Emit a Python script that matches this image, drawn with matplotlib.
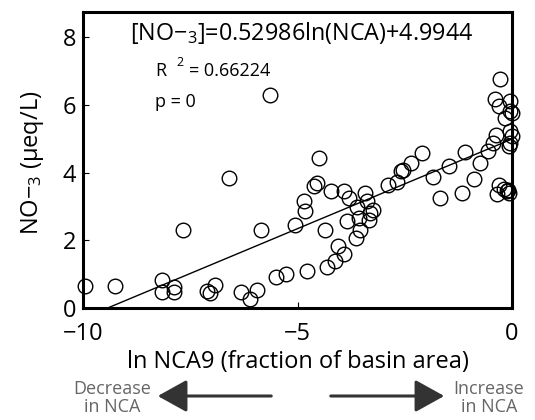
import matplotlib
matplotlib.use("Agg")
import matplotlib.pyplot as plt
import numpy as np

plt.rcParams['font.family'] = ['Open Sans', 'DejaVu Sans']
plt.rcParams['mathtext.fontset'] = 'custom'
plt.rcParams['mathtext.rm'] = 'Open Sans'
plt.rcParams['mathtext.it'] = 'Open Sans'

ln_nca = [-9.95, -9.26, -8.16, -8.17, -7.89, -7.87, -7.67, -7.11, -7.05, -6.92,
          -6.60, -6.31, -6.10, -5.94, -5.84, -5.65, -5.49, -5.27, -5.05, -4.86,
          -4.82, -4.78, -4.62, -4.55, -4.51, -4.37, -4.31, -4.23, -4.13, -4.06,
          -3.92, -3.92, -3.81, -3.85, -3.63, -3.61, -3.57, -3.54, -3.43, -3.38,
          -3.34, -3.30, -3.24, -2.89, -2.68, -2.58, -2.54, -2.35, -2.10, -1.83,
          -1.67, -1.48, -1.17, -1.09, -0.89, -0.74, -0.57, -0.44, -0.37, -0.35,
          -0.31, -0.27, -0.39, -0.31, -0.17, -0.12, -0.09, -0.04, -0.04, 0.0,
          -0.04, 0.0, -0.04, -0.08, -0.06, -0.19]
no3 = [0.66, 0.66, 0.82, 0.46, 0.62, 0.46, 2.30, 0.49, 0.44, 0.69,
       3.84, 0.48, 0.28, 0.54, 2.30, 6.31, 0.92, 1.00, 2.44, 3.15,
       2.86, 1.10, 3.60, 3.69, 4.43, 2.30, 1.20, 3.47, 1.40, 1.84,
       1.60, 3.45, 3.25, 2.58, 2.07, 3.00, 2.66, 2.32, 3.40, 3.15,
       2.61, 2.81, 2.91, 3.63, 3.71, 4.04, 4.09, 4.29, 4.58, 3.86,
       3.25, 4.19, 3.40, 4.60, 3.82, 4.29, 4.65, 4.88, 5.12, 3.37,
       3.65, 6.78, 6.19, 5.96, 5.62, 3.45, 3.50, 6.11, 5.81, 5.76,
       5.22, 5.07, 4.88, 4.78, 3.40, 3.53]

slope = 0.52986
intercept = 4.9944
xticks = [-10, -5, 0]
xtick_labels = ['\u221210', '\u22125', '0']
yticks = [0, 2, 4, 6, 8]

W, H = 535, 420
fig = plt.figure(figsize=(W / 100, H / 100), dpi=100)
ax = fig.add_axes([83 / W, 1 - 308 / H, 429 / W, 296 / H])


def fx(px):
    return px / W


def fy(py):
    return 1 - py / H


ax.plot(ln_nca, no3, 'o', mfc='none', mec='black', ms=10.5, mew=1.0, clip_on=False, zorder=3)

x0 = -intercept / slope
xl = np.array([x0, 0.0])
ax.plot(xl, slope * xl + intercept, color='black', lw=1.0)

ax.set_xlim(-10, 0)
ax.set_ylim(0, 8.75)
ax.set_xticks(xticks)
ax.set_xticklabels(xtick_labels)
ax.set_yticks(yticks)
ax.tick_params(direction='in', length=4, width=0.8, labelsize=17)
ax.tick_params(axis='x', pad=10)
ax.tick_params(axis='y', pad=5)
for s in ax.spines.values():
    s.set_linewidth(2.2)

ax.set_xlabel('ln NCA9 (fraction of basin area)', fontsize=17)
ax.xaxis.set_label_coords(0.5, (308 - 350) / 296)
ax.set_ylabel('NO\u2212$_{3}$ (\u03bceq/L)', fontsize=17)
ax.yaxis.set_label_coords((46 - 83) / 429, 0.49)

fig.text(fx(302), fy(33), '[NO\u2212$_{3}$]=0.52986ln(NCA)+4.9944',
         fontsize=16.8, ha='center', va='center')
fig.text(fx(155), fy(71), 'R', fontsize=13, ha='left', va='center')
fig.text(fx(176), fy(62), '2', fontsize=9, ha='left', va='center')
fig.text(fx(189), fy(71), '= 0.66224', fontsize=13, ha='left', va='center')
fig.text(fx(155), fy(102), 'p = 0', fontsize=13, ha='left', va='center')

# bottom arrows and notes
fig.text(fx(112), fy(398), 'Decrease\nin NCA', ha='center', va='center',
         fontsize=13, color='#666666', linespacing=1.05)
fig.text(fx(489), fy(398), 'Increase\nin NCA', ha='center', va='center',
         fontsize=13, color='#666666', linespacing=1.05)
fig.patches.append(matplotlib.patches.FancyArrowPatch(
    (fx(274), fy(396)), (fx(155), fy(396)), transform=fig.transFigure,
    arrowstyle='-|>,head_length=0.9,head_width=0.5', mutation_scale=20, color='#333333', lw=2.2))
fig.patches.append(matplotlib.patches.FancyArrowPatch(
    (fx(328), fy(396)), (fx(447), fy(396)), transform=fig.transFigure,
    arrowstyle='-|>,head_length=0.9,head_width=0.5', mutation_scale=20, color='#333333', lw=2.2))

fig.savefig('out.png', dpi=100)
